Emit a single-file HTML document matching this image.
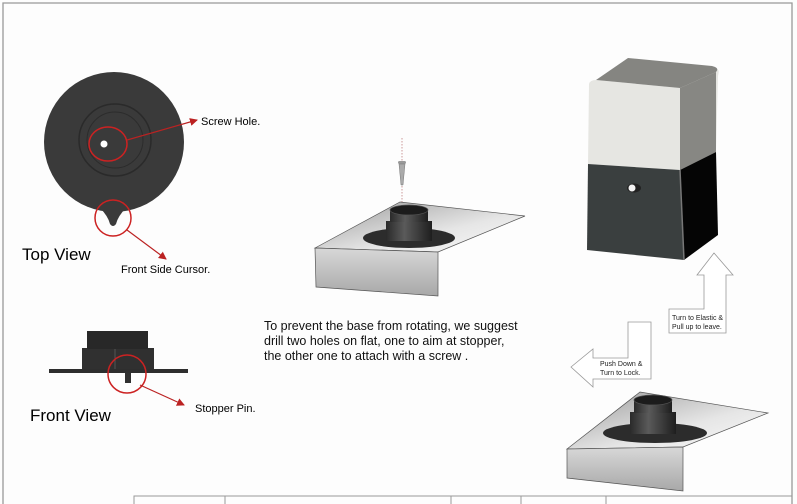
<!DOCTYPE html>
<html><head><meta charset="utf-8"><style>
html,body{margin:0;padding:0;background:#fdfdfd;}
svg{display:block;font-family:"Liberation Sans",Arial,sans-serif;}
</style></head><body>
<svg width="797" height="504" viewBox="0 0 797 504" xmlns="http://www.w3.org/2000/svg">
<defs>
<linearGradient id="slabF" x1="0" y1="0" x2="0" y2="1"><stop offset="0" stop-color="#d8d8d8"/><stop offset="1" stop-color="#a8a8a8"/></linearGradient>
<linearGradient id="slabT" x1="0" y1="0" x2="1" y2="1"><stop offset="0" stop-color="#9a9a9a"/><stop offset="0.6" stop-color="#e6e6e6"/><stop offset="1" stop-color="#fafafa"/></linearGradient>
<linearGradient id="cyl" x1="0" y1="0" x2="1" y2="0"><stop offset="0" stop-color="#2a2a2a"/><stop offset="0.4" stop-color="#5a5a5a"/><stop offset="1" stop-color="#1e1e1e"/></linearGradient>
<marker id="ah" markerWidth="8" markerHeight="8" refX="7" refY="4" orient="auto" markerUnits="userSpaceOnUse"><path d="M0,0 L8,4 L0,8 Z" fill="#b22"/></marker>
</defs>
<rect width="797" height="504" fill="#fdfdfd"/>
<path d="M3,504 V3 H792 V504" fill="none" stroke="#999" stroke-width="1.3"/>
<path d="M134,504 V496 H792 M225,496 V504 M451,496 V504 M521,496 V504 M606,496 V504" fill="none" stroke="#999" stroke-width="1"/>

<!-- Top view -->
<circle cx="114" cy="142" r="70" fill="#3a3a3a"/>
<path d="M100,208 Q113,212 126,208 Q118,216 116,224 Q113,228 110,224 Q108,216 100,208Z" fill="#3a3a3a"/>
<circle cx="115" cy="140" r="36" fill="none" stroke="#2a2a2a" stroke-width="1.5"/>
<circle cx="115" cy="140" r="28" fill="none" stroke="#2c2c2c" stroke-width="1"/>
<circle cx="104" cy="144" r="3.5" fill="#fff"/>
<ellipse cx="108" cy="144" rx="19" ry="17" fill="none" stroke="#c22" stroke-width="1.5"/>
<line x1="127" y1="140" x2="197" y2="120" stroke="#b22" stroke-width="1.2" marker-end="url(#ah)"/>
<text x="201" y="125" font-size="11">Screw Hole.</text>
<circle cx="113" cy="218" r="18" fill="none" stroke="#c22" stroke-width="1.5"/>
<line x1="127" y1="230" x2="166" y2="259" stroke="#b22" stroke-width="1.2" marker-end="url(#ah)"/>
<text x="121" y="273" font-size="11">Front Side Cursor.</text>
<text x="22" y="260" font-size="17">Top View</text>

<!-- Front view -->
<rect x="49" y="369" width="139" height="4" fill="#2e2e2e"/>
<rect x="82" y="348" width="72" height="21" fill="#303030"/>
<rect x="87" y="331" width="61" height="18" fill="#282828"/>
<line x1="115" y1="349" x2="115" y2="369" stroke="#555"/>
<rect x="125" y="373" width="6" height="10" fill="#303030"/>
<circle cx="127" cy="374" r="19" fill="none" stroke="#c22" stroke-width="1.5"/>
<line x1="140" y1="385" x2="184" y2="405" stroke="#b22" stroke-width="1.2" marker-end="url(#ah)"/>
<text x="195" y="412" font-size="11">Stopper Pin.</text>
<text x="30" y="421" font-size="17">Front View</text>

<!-- Main text -->
<text font-size="12.5" fill="#111"><tspan x="264" y="330">To prevent the base from rotating, we suggest</tspan><tspan x="264" y="345">drill two holes on flat, one to aim at stopper,</tspan><tspan x="264" y="360">the other one to attach with a screw .</tspan></text>

<!-- Middle slab -->
<line x1="402" y1="138" x2="402" y2="202" stroke="#c99" stroke-width="1" stroke-dasharray="1.5,1.5"/>
<path d="M315,248 L400,202 L525,216 L438,252 Z" fill="url(#slabT)" stroke="#555" stroke-width="0.7"/>
<path d="M315,248 L438,252 L438,296 L316,287 Z" fill="url(#slabF)" stroke="#555" stroke-width="0.7"/>
<ellipse cx="409" cy="238" rx="46" ry="10" fill="#2c2c2c"/>
<rect x="386" y="221" width="46" height="20" fill="url(#cyl)"/>
<rect x="390" y="210" width="38" height="12" fill="url(#cyl)"/>
<ellipse cx="409" cy="210" rx="19" ry="5" fill="#1c1c1c" stroke="#555" stroke-width="0.7"/>
<rect x="398" y="161" width="8" height="3" rx="1.5" fill="#999"/>
<path d="M399,164 H405 L403,185 H401Z" fill="#aaa" stroke="#777" stroke-width="0.5"/>

<!-- Box -->
<path d="M589,84 Q590,80 596,80 L680,88 L716,70 Q720,68 718,76 L716,152 L680,170 L588,164 Z" fill="#e6e6e2"/>
<path d="M596,80 L628,58 L712,66 Q720,68 716,72 L680,88 Z" fill="#858581"/>
<path d="M680,88 L716,72 L716,152 L680,170 Z" fill="#878783"/>
<path d="M588,164 L680,170 L684,260 L587,250 Z" fill="#3a3f3f"/>
<path d="M680,170 L716,152 L718,235 L684,260 Z" fill="#050505"/>
<path d="M680,170 L684,260" stroke="#777" stroke-width="1.5"/>
<ellipse cx="634" cy="188" rx="7" ry="4.5" fill="#222"/>
<circle cx="632" cy="188" r="3.5" fill="#f4f4f4"/>

<!-- Arrows -->
<path d="M714,253 L733,275 L726,275 L726,333 L669,333 L669,309 L704,309 L704,275 L697,275 Z" fill="#fff" stroke="#999" stroke-width="0.8"/>
<text font-size="7" fill="#222"><tspan x="672" y="320">Turn to Elastic &amp;</tspan><tspan x="672" y="329">Pull up to leave.</tspan></text>
<path d="M571,367 L593,349 L593,358 L628,358 L628,322 L651,322 L651,379 L593,379 L593,387 Z" fill="#fff" stroke="#999" stroke-width="0.8"/>
<text font-size="7" fill="#222"><tspan x="600" y="366">Push Down &amp;</tspan><tspan x="600" y="375">Turn to Lock.</tspan></text>

<!-- Bottom slab -->
<path d="M567,449 L640,392 L768,413 L683,447 Z" fill="url(#slabT)" stroke="#555" stroke-width="0.7"/>
<path d="M567,449 L683,447 L683,491 L567,478 Z" fill="url(#slabF)" stroke="#555" stroke-width="0.7"/>
<ellipse cx="655" cy="433" rx="52" ry="10" fill="#2c2c2c"/>
<rect x="630" y="412" width="46" height="22" fill="url(#cyl)"/>
<rect x="634" y="400" width="38" height="13" fill="url(#cyl)"/>
<ellipse cx="653" cy="400" rx="19" ry="5" fill="#1c1c1c" stroke="#555" stroke-width="0.7"/>
</svg>
</body></html>
